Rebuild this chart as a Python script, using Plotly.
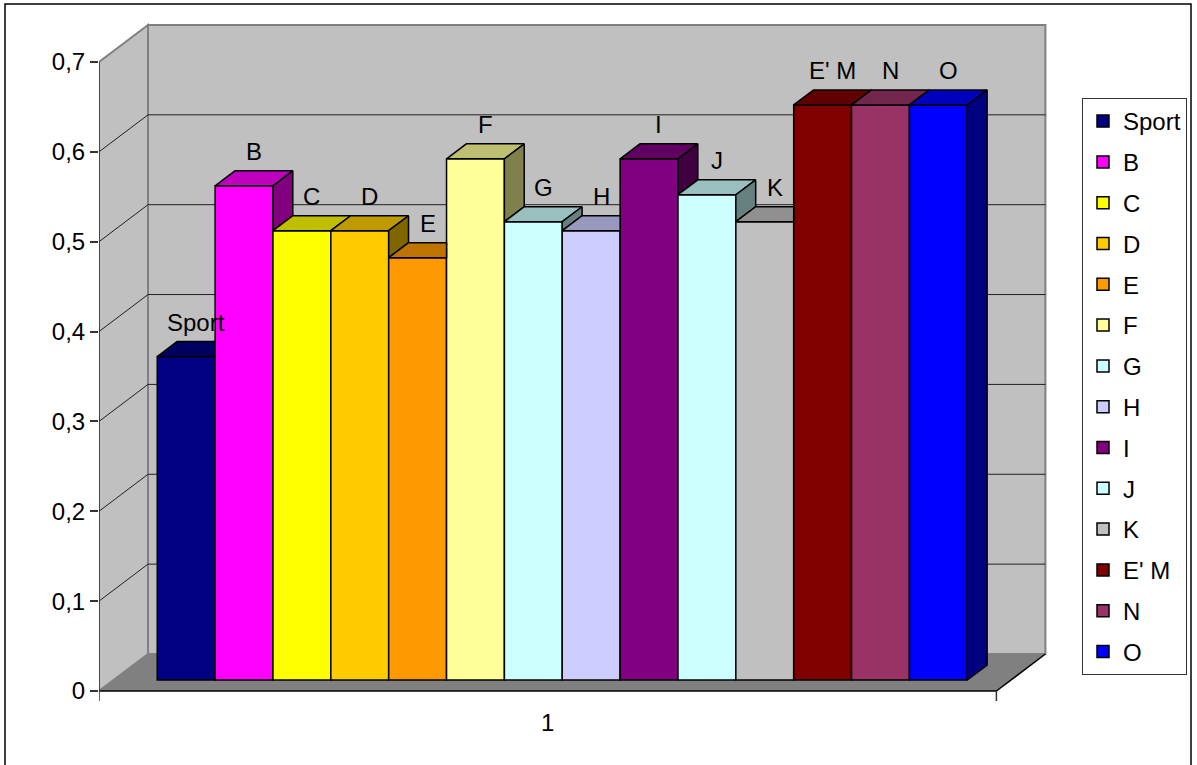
import plotly.graph_objects as go

# ---------------- data ----------------
categories = ["Sport", "B", "C", "D", "E", "F", "G", "H", "I", "J", "K", "E' M", "N", "O"]
values = [0.36, 0.55, 0.50, 0.50, 0.47, 0.58, 0.51, 0.50, 0.58, 0.54, 0.51, 0.64, 0.64, 0.64]
colors = ["#000080", "#FF00FF", "#FFFF00", "#FFCC00", "#FF9900", "#FFFF99", "#CCFFFF",
          "#CCCCFF", "#800080", "#CCFFFF", "#C0C0C0", "#800000", "#993366", "#0000FF"]
y_tick_vals = [0, 0.1, 0.2, 0.3, 0.4, 0.5, 0.6, 0.7]
y_tick_text = ["0", "0,1", "0,2", "0,3", "0,4", "0,5", "0,6", "0,7"]
x_category_label = "1"

# ---------------- pseudo-3D geometry (style) ----------------
W_FIG, H_FIG = 1197, 765
ML, MR, MT, MB = 99, 147, 20, 60
PW = W_FIG - ML - MR
PH = H_FIG - MT - MB
PX_X = 57.86          # pixels per category unit
PX_Y = 898.6          # pixels per value unit
DXW = 49 / PX_X       # full wall depth, x (data units)
DYW = 37 / PX_Y       # full wall depth, y (data units)
F0 = 0.297            # depth fraction of the bars' front face
FB = 0.405            # bar depth fraction
GAP = 0.755           # gap between floor edge and first/last bar
DXB, DYB = FB * DXW, FB * DYW
BASE = F0 * DYW
YTOP = y_tick_vals[-1]
N = len(values)

X0 = -0.5 - GAP - F0 * DXW
X1 = (N - 0.5) + GAP - F0 * DXW
YMIN = -14 / PX_Y
XMAX = X0 + PW / PX_X
YMAX = YMIN + PH / PX_Y

FONT = "Liberation Sans, Arial, sans-serif"


def shade(hexcol, f):
    h = hexcol.lstrip("#")
    r, g, b = (int(h[i:i + 2], 16) for i in (0, 2, 4))
    return "rgb(%d,%d,%d)" % (round(r * f), round(g * f), round(b * f))


def pxx(px):
    return (px - ML) / PW


def pxy(py):
    return (H_FIG - MB - py) / PH


fig = go.Figure()

# front faces (real bars)
for i, (cat, v, c) in enumerate(zip(categories, values, colors)):
    fig.add_trace(go.Bar(
        x=[i], y=[v], base=[BASE], width=1, name=cat, legendgroup=cat,
        marker=dict(color=c, line=dict(color="black", width=1.5)),
        hoverinfo="skip", showlegend=True))

# top and side faces, clipped by the next bar's silhouette
s = DYB / DXB
for i, (cat, v, c) in enumerate(zip(categories, values, colors)):
    xl, xr = i - 0.5, i + 0.5
    top = BASE + v
    nxt = BASE + values[i + 1] if i + 1 < N else BASE
    vc = min(max(nxt, top), top + DYB)
    tx = [xl, xr, xr, xr + (top + DYB - vc) / s, xl + DXB, xl]
    ty = [top, top, vc, top + DYB, top + DYB, top]
    fig.add_trace(go.Scatter(
        x=tx, y=ty, mode="lines", fill="toself", fillcolor=shade(c, 0.75),
        line=dict(color="black", width=1.5), legendgroup=cat, showlegend=False,
        hoverinfo="skip"))
    if top > nxt:
        sx = [xr, xr + DXB, xr + DXB, xr, xr]
        sy = [nxt, nxt + DYB, top + DYB, top, nxt]
        fig.add_trace(go.Scatter(
            x=sx, y=sy, mode="lines", fill="toself", fillcolor=shade(c, 0.5),
            line=dict(color="black", width=1.5), legendgroup=cat, showlegend=False,
            hoverinfo="skip"))

# labels above bars
for i, (cat, v) in enumerate(zip(categories, values)):
    fig.add_annotation(x=i + DXB / 2, y=BASE + v + 34 / PX_Y, text=cat, showarrow=False,
                       font=dict(family=FONT, size=24, color="black"),
                       xanchor="center", yanchor="middle")

# category axis label
fig.add_annotation(x=(X0 + X1) / 2, xref="x", y=pxy(722), yref="paper",
                   text=x_category_label, showarrow=False,
                   font=dict(family=FONT, size=24, color="black"),
                   xanchor="center", yanchor="middle")

# walls, floor, gridlines
shapes = []


def poly(pts):
    return "M " + " L ".join("%f,%f" % p for p in pts) + " Z"


shapes.append(dict(type="path", xref="x", yref="y", layer="below",
                   path=poly([(X0 + DXW, DYW), (X1 + DXW, DYW), (X1 + DXW, YTOP + DYW), (X0 + DXW, YTOP + DYW)]),
                   fillcolor="#C0C0C0", line=dict(color="#808080", width=2)))
shapes.append(dict(type="path", xref="x", yref="y", layer="below",
                   path=poly([(X0, 0), (X0 + DXW, DYW), (X0 + DXW, YTOP + DYW), (X0, YTOP)]),
                   fillcolor="#C0C0C0", line=dict(color="#808080", width=2)))
shapes.append(dict(type="path", xref="x", yref="y", layer="below",
                   path=poly([(X0, 0), (X1, 0), (X1 + DXW, DYW), (X0 + DXW, DYW)]),
                   fillcolor="#808080", line=dict(width=0)))
for v in y_tick_vals[1:-1]:
    shapes.append(dict(type="line", xref="x", yref="y", layer="below",
                       x0=X0 + DXW, y0=v + DYW, x1=X1 + DXW, y1=v + DYW,
                       line=dict(color="#202020", width=1)))
    shapes.append(dict(type="line", xref="x", yref="y", layer="below",
                       x0=X0, y0=v, x1=X0 + DXW, y1=v + DYW,
                       line=dict(color="#202020", width=1)))
# floor front edge and right edge
shapes.append(dict(type="line", xref="x", yref="y", layer="below",
                   x0=X0, y0=0, x1=X1, y1=0, line=dict(color="black", width=1.5)))
shapes.append(dict(type="line", xref="x", yref="y", layer="below",
                   x0=X1, y0=0, x1=X1 + DXW, y1=DYW, line=dict(color="black", width=1.5)))
# value axis line and category tick marks
shapes.append(dict(type="line", xref="x", yref="y", layer="above",
                   x0=X0, y0=-10 / PX_Y, x1=X0, y1=YTOP, line=dict(color="#333333", width=1.5)))
shapes.append(dict(type="line", xref="x", yref="y", layer="above",
                   x0=X1, y0=-10 / PX_Y, x1=X1, y1=0, line=dict(color="#333333", width=1.5)))

# outer chart border (paper coordinates)
shapes.append(dict(type="rect", xref="paper", yref="paper", x0=pxx(5), x1=pxx(1191),
                   y0=pxy(780), y1=pxy(4), line=dict(color="black", width=1.5),
                   fillcolor="rgba(0,0,0,0)", layer="above"))

fig.update_layout(
    width=W_FIG, height=H_FIG,
    margin=dict(l=ML, r=MR, t=MT, b=MB),
    paper_bgcolor="white", plot_bgcolor="white",
    barmode="overlay",
    shapes=shapes,
    font=dict(family=FONT, size=24, color="black"),
    xaxis=dict(range=[X0, XMAX], visible=False, fixedrange=True),
    yaxis=dict(range=[YMIN, YMAX], showgrid=False, zeroline=False, showline=False,
               tickvals=y_tick_vals, ticktext=y_tick_text, ticks="outside",
               ticklen=8, tickwidth=1.5, tickcolor="#333333",
               tickfont=dict(family=FONT, size=24, color="black"), fixedrange=True),
    legend=dict(xref="container", yref="container", x=1082 / W_FIG, y=1 - 98 / H_FIG,
                xanchor="left", yanchor="top", bgcolor="white", bordercolor="#333333",
                borderwidth=1, font=dict(family=FONT, size=24, color="black"),
                tracegroupgap=6.6, traceorder="grouped", maxheight=700),
    showlegend=True,
)

fig.write_html("out.html")
